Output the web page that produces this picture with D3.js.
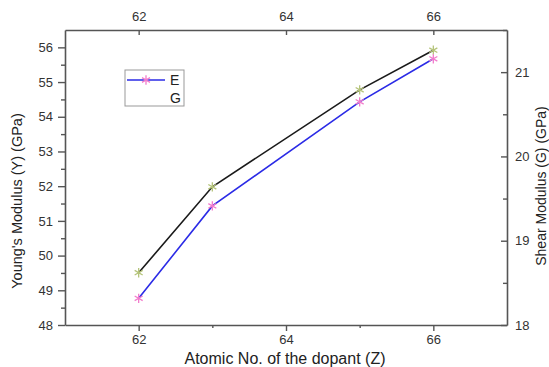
<!DOCTYPE html>
<html>
<head>
<meta charset="utf-8">
<script src="https://cdn.jsdelivr.net/npm/d3@7"></script>
<style>
  body { margin: 0; background: #fff; }
  svg { display: block; font-family: "Liberation Sans", Arial, sans-serif; }
</style>
</head>
<body>
<svg id="chart" width="549" height="367"></svg>
<script>
// atomic number of dopant
const atomicNo = [62, 63, 65, 66];
// Young's modulus E (GPa), left axis
const youngE = [48.77, 51.43, 54.43, 55.67];
// Shear modulus G (GPa), right axis
const shearG = [18.62, 19.64, 20.79, 21.26];

const xTicks = [62, 64, 66];
const xMinor = [63, 65];
const yLeftTicks = [48, 49, 50, 51, 52, 53, 54, 55, 56];
const yLeftMinor = [48.5, 49.5, 50.5, 51.5, 52.5, 53.5, 54.5, 55.5];
const yRightTicks = [18, 19, 20, 21];
const yRightMinor = [18.5, 19.5, 20.5, 21.5];

const margin = {top: 30, right: 42, bottom: 42, left: 65};
const svg = d3.select("#chart");
const W = +svg.attr("width"), H = +svg.attr("height");
const width = W - margin.left - margin.right,
      height = H - margin.top - margin.bottom;

const x = d3.scaleLinear().domain([61, 67]).range([0, width]);
const yL = d3.scaleLinear().domain([48, 56.5]).range([height, 0]);
const yR = d3.scaleLinear().domain([18, 21.5]).range([height, 0]);
const fmt = d3.format("d");

const g = svg.append("g").attr("transform", `translate(${margin.left},${margin.top})`);

const axisColor = "#555";
function styleAxis(sel) {
  sel.selectAll(".domain").attr("stroke", axisColor).attr("stroke-width", 1.6);
  sel.selectAll(".tick line").attr("stroke", axisColor).attr("stroke-width", 1.4);
  sel.selectAll("text").attr("fill", "#333").style("font-size", "13px")
    .style("font-family", "Liberation Sans, Arial, sans-serif");
}

// minor ticks first (no labels, no domain)
function minor(axis, tr) {
  const a = g.append("g").attr("transform", tr).call(axis.tickFormat(""));
  a.select(".domain").remove();
  styleAxis(a);
}
minor(d3.axisBottom(x).tickValues(xMinor).tickSize(3), `translate(0,${height})`);
minor(d3.axisLeft(yL).tickValues(yLeftMinor).tickSize(4), null);
minor(d3.axisRight(yR).tickValues(yRightMinor).tickSize(-4), `translate(${width},0)`);

// main axes
g.append("g").attr("transform", `translate(0,${height})`)
  .call(d3.axisBottom(x).tickValues(xTicks).tickFormat(fmt).tickSize(6).tickSizeOuter(0).tickPadding(4))
  .call(styleAxis);
g.append("g")
  .call(d3.axisTop(x).tickValues(xTicks).tickFormat(fmt).tickSize(-5).tickSizeOuter(0).tickPadding(9))
  .call(styleAxis);
g.append("g")
  .call(d3.axisLeft(yL).tickValues(yLeftTicks).tickFormat(fmt).tickSize(7).tickSizeOuter(0).tickPadding(5))
  .call(styleAxis);
g.append("g").attr("transform", `translate(${width},0)`)
  .call(d3.axisRight(yR).tickValues(yRightTicks).tickFormat(fmt).tickSize(-6).tickSizeOuter(0).tickPadding(8))
  .call(styleAxis);

// lines
const lineE = d3.line().x((d, i) => x(atomicNo[i])).y(d => yL(d));
const lineG = d3.line().x((d, i) => x(atomicNo[i])).y(d => yR(d));

g.append("path").datum(shearG).attr("d", lineG)
  .attr("fill", "none").attr("stroke", "#1a1a1a").attr("stroke-width", 1.6);
g.append("path").datum(youngE).attr("d", lineE)
  .attr("fill", "none").attr("stroke", "#2b2be6").attr("stroke-width", 1.6);

const star = d3.symbol().type(d3.symbolAsterisk).size(60);

g.selectAll(".mG").data(shearG).enter().append("path")
  .attr("transform", (d, i) => `translate(${x(atomicNo[i])},${yR(d)})`)
  .attr("d", star).attr("fill", "none").attr("stroke", "#b5c47a").attr("stroke-width", 1.3);
g.selectAll(".mE").data(youngE).enter().append("path")
  .attr("transform", (d, i) => `translate(${x(atomicNo[i])},${yL(d)})`)
  .attr("d", star).attr("fill", "none").attr("stroke", "#f27ccc").attr("stroke-width", 1.3);

// legend
const leg = svg.append("g").attr("transform", "translate(125,70)");
leg.append("rect").attr("width", 59).attr("height", 36)
  .attr("fill", "#fff").attr("stroke", "#999").attr("stroke-width", 1);
leg.append("line").attr("x1", 2).attr("x2", 40).attr("y1", 10).attr("y2", 10)
  .attr("stroke", "#2b2be6").attr("stroke-width", 1.6);
leg.append("path").attr("transform", "translate(21,10)").attr("d", star)
  .attr("fill", "none").attr("stroke", "#f27ccc").attr("stroke-width", 1.3);
leg.append("text").attr("x", 45).attr("y", 15).text("E")
  .style("font-size", "14px").attr("fill", "#222");
leg.append("text").attr("x", 45).attr("y", 33).text("G")
  .style("font-size", "14px").attr("fill", "#222");

// axis titles
svg.append("text").attr("x", 285).attr("y", 364)
  .attr("text-anchor", "middle").style("font-size", "16px").attr("fill", "#222")
  .text("Atomic No. of the dopant (Z)");
svg.append("text").attr("transform", "translate(22,201) rotate(-90)")
  .attr("text-anchor", "middle").style("font-size", "14.5px").attr("fill", "#222")
  .text("Young's Modulus (Y) (GPa)");
svg.append("text").attr("transform", "translate(546,186) rotate(-90)")
  .attr("text-anchor", "middle").style("font-size", "14px").attr("fill", "#222")
  .text("Shear Modulus (G) (GPa)");
</script>
</body>
</html>
